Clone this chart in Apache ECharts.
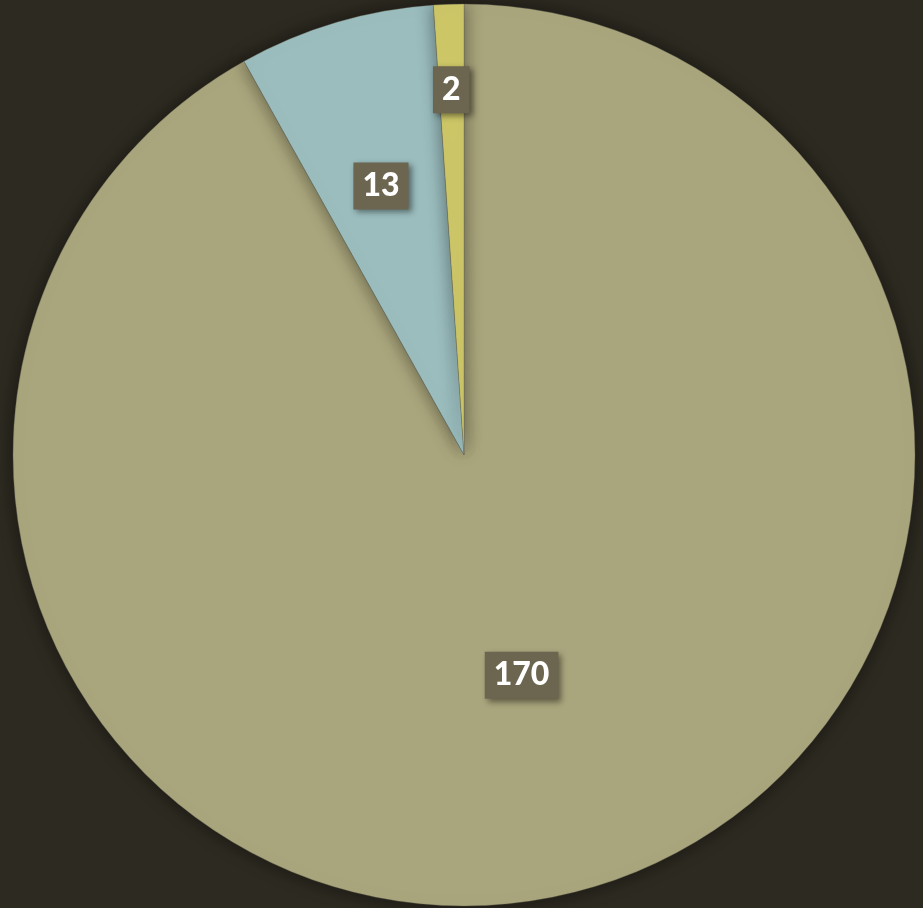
<!DOCTYPE html>
<html>
<head>
<meta charset="utf-8">
<script src="https://cdn.jsdelivr.net/npm/echarts@6/dist/echarts.min.js"></script>
<style>
html,body{margin:0;padding:0;background:#2d2a21;}
#chart{width:923px;height:908px;}
</style>
</head>
<body>
<div id="chart"></div>
<script>
const categories = ['A', 'B', 'C'];
const values = [170, 13, 2];
const colors = ['#a9a57c', '#9bbdbe', '#cdc768'];
const labelOffsets = [[0, -1], [-18, -50], [-5, -137]];

const chart = echarts.init(document.getElementById('chart'));
chart.setOption({
  backgroundColor: '#2d2a21',
  animation: false,
  series: [{
    type: 'pie',
    center: [464, 455],
    radius: 451,
    startAngle: 90,
    clockwise: true,
    data: categories.map((c, i) => ({
      name: c,
      value: values[i],
      itemStyle: { color: colors[i] },
      label: { offset: labelOffsets[i] }
    })),
    itemStyle: {
      borderColor: 'rgba(100,100,85,0.6)',
      borderWidth: 0.6,
      shadowBlur: 18,
      shadowColor: 'rgba(0,0,0,0.45)'
    },
    label: {
      show: true,
      position: 'inside',
      formatter: '{c}',
      color: '#ffffff',
      fontFamily: 'Lato',
      fontWeight: 900,
      fontSize: 32,
      lineHeight: 33,
      backgroundColor: '#6c654f',
      padding: [8, 9, 6, 9],
      shadowBlur: 6,
      shadowOffsetX: 3,
      shadowOffsetY: 3,
      shadowColor: 'rgba(0,0,0,0.45)'
    },
    labelLine: { show: false },
    emphasis: { disabled: true }
  }]
});
</script>
</body>
</html>
